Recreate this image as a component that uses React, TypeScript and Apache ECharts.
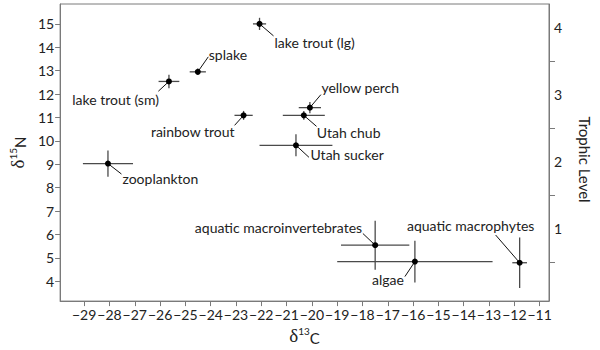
import React, { useEffect, useRef } from "react";
import * as echarts from "echarts";

const names = [
  "lake trout (lg)",
  "splake",
  "lake trout (sm)",
  "rainbow trout",
  "yellow perch",
  "Utah chub",
  "Utah sucker",
  "zooplankton",
  "aquatic macroinvertebrates",
  "algae",
  "aquatic macrophytes",
];
const d13C = [-22.07, -24.51, -25.65, -22.7, -20.08, -20.32, -20.63, -28.06, -17.5, -15.93, -11.79];
const d13CErr = [0.26, 0.32, 0.41, 0.36, 0.44, 0.83, 1.44, 0.99, 1.35, 3.07, 0.29];
const d15N = [15.0, 12.95, 12.54, 11.09, 11.42, 11.09, 9.81, 9.03, 5.54, 4.84, 4.79];
const d15NErr = [0.26, 0.14, 0.29, 0.19, 0.24, 0.19, 0.47, 0.56, 1.05, 0.89, 1.08];

const xTicks = [-29, -28, -27, -26, -25, -24, -23, -22, -21, -20, -19, -18, -17, -16, -15, -14, -13, -12, -11];
const yTicks = [4, 5, 6, 7, 8, 9, 10, 11, 12, 13, 14, 15];
const trophicLabels = [1, 2, 3, 4];
const trophicBounds = [0.5, 1.5, 2.5, 3.5];

// label placement (pixels relative to point): leader end dx, dy, text dx, dy, align
const placement: [number, number, number, number, string][] = [
  [14, 12, 15, 19, "left"],
  [10.5, -15, 11, -17, "left"],
  [-10.6, 9.8, -10, 18, "right"],
  [-9, 10, -9, 16.5, "right"],
  [11, -13, 11.5, -20, "left"],
  [12.7, 11, 13, 17, "left"],
  [13, 12, 14.5, 9, "left"],
  [13.5, 10.5, 14.5, 14.5, "left"],
  [-12.3, -11.7, -13, -18, "right"],
  [-10, 15, -11, 17.5, "right"],
  [-24, -27.7, -49, -37.7, "center"],
];

const FONT = "Lato";
const AXIS_COLOR = "#7a7a7a";
const TEXT_COLOR = "#222";
const minus = (v: number) => String(v).replace("-", "\u2212");

export default function App() {
  const ref = useRef<HTMLDivElement>(null);
  useEffect(() => {
    if (!ref.current) return;
    const chart = echarts.init(ref.current, null, { renderer: "svg" });
    const data = names.map((n, i) => [d13C[i], d15N[i], d13CErr[i], d15NErr[i], i]);
    const deltaRich = {
      d: { fontFamily: "Liberation Serif", fontSize: 19, color: TEXT_COLOR, verticalAlign: "bottom" },
      s: { fontFamily: FONT, fontSize: 10, color: TEXT_COLOR, verticalAlign: "top" },
      c: { fontFamily: FONT, fontSize: 15, color: TEXT_COLOR, verticalAlign: "bottom" },
    };
    chart.setOption({
      animation: false,
      textStyle: { fontFamily: FONT },
      grid: {
        left: 48,
        right: 38.5,
        top: 4,
        bottom: 43,
        show: true,
        borderColor: AXIS_COLOR,
        borderWidth: 1,
      },
      xAxis: {
        type: "value",
        min: -29.95,
        max: -10.63,
        splitLine: { show: false },
        axisLine: { show: true, onZero: false, lineStyle: { color: AXIS_COLOR } },
        axisTick: { show: true, length: 5, customValues: xTicks, lineStyle: { color: AXIS_COLOR } },
        axisLabel: {
          customValues: xTicks,
          formatter: minus,
          color: TEXT_COLOR,
          fontSize: 14,
          fontFamily: FONT,
          margin: 6,
        },
        name: "{d|δ}{s|13}{c|C}",
        nameLocation: "middle",
        nameGap: 23,
        nameTextStyle: { rich: deltaRich },
      },
      yAxis: [
        {
          type: "value",
          min: 3.15,
          max: 15.85,
          splitLine: { show: false },
          axisLine: { show: true, onZero: false, lineStyle: { color: AXIS_COLOR } },
          axisTick: { show: true, length: 5, customValues: yTicks, lineStyle: { color: AXIS_COLOR } },
          axisLabel: {
            customValues: yTicks,
            color: TEXT_COLOR,
            fontSize: 14,
            fontFamily: FONT,
            margin: 6,
          },
          name: "{d|δ}{s|15}{c|N}",
          nameLocation: "middle",
          nameGap: 25,
          nameTextStyle: { rich: deltaRich },
        },
        {
          type: "value",
          position: "right",
          min: -0.074,
          max: 4.351,
          splitLine: { show: false },
          axisLine: { show: true, onZero: false, lineStyle: { color: AXIS_COLOR } },
          axisTick: { show: true, length: 6, customValues: trophicBounds, lineStyle: { color: AXIS_COLOR } },
          axisLabel: {
            customValues: trophicLabels,
            color: TEXT_COLOR,
            fontSize: 14,
            fontFamily: FONT,
            margin: 5,
          },
          name: "Trophic Level",
          nameLocation: "middle",
          nameRotate: -90,
          nameGap: 28,
          nameTextStyle: { color: TEXT_COLOR, fontSize: 15, fontFamily: FONT, padding: [0, 0, 0, 14] },
        },
      ],
      series: [
        {
          type: "custom",
          data,
          clip: false,
          renderItem: (params: any, api: any) => {
            const x = api.value(0);
            const y = api.value(1);
            const ex = api.value(2);
            const ey = api.value(3);
            const i = api.value(4);
            const p = api.coord([x, y]);
            const l = api.coord([x - ex, y]);
            const r = api.coord([x + ex, y]);
            const t = api.coord([x, y + ey]);
            const b = api.coord([x, y - ey]);
            const pl = placement[i];
            const barStyle = { stroke: "#4a4a4a", lineWidth: 1.3 };
            return {
              type: "group",
              children: [
                { type: "line", shape: { x1: l[0], y1: l[1], x2: r[0], y2: r[1] }, style: barStyle },
                { type: "line", shape: { x1: t[0], y1: t[1], x2: b[0], y2: b[1] }, style: barStyle },
                {
                  type: "line",
                  shape: { x1: p[0], y1: p[1], x2: p[0] + pl[0], y2: p[1] + pl[1] },
                  style: { stroke: "#111", lineWidth: 1 },
                },
                { type: "circle", shape: { cx: p[0], cy: p[1], r: 3 }, style: { fill: "#000" } },
                {
                  type: "text",
                  x: p[0] + pl[2],
                  y: p[1] + pl[3],
                  style: {
                    text: names[i],
                    fill: TEXT_COLOR,
                    fontSize: 14,
                    fontFamily: FONT,
                    align: pl[4],
                    verticalAlign: "middle",
                  },
                },
              ],
            };
          },
        },
      ],
    });
    return () => chart.dispose();
  }, []);
  return (
    <div
      ref={ref}
      style={{ position: "absolute", left: 0, top: 0, width: 600, height: 350 }}
    />
  );
}
